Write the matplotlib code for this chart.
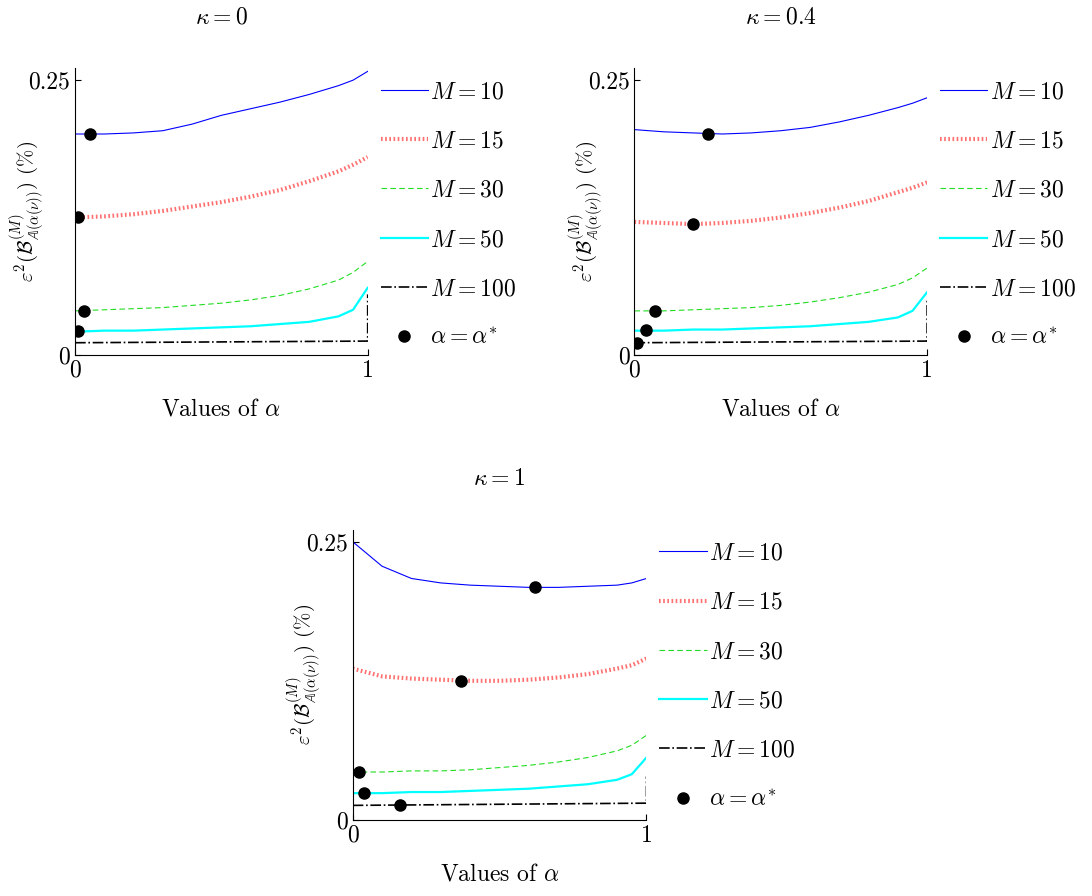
import matplotlib
matplotlib.use('Agg')
import matplotlib.pyplot as plt

plt.rcParams['font.family'] = 'serif'
plt.rcParams['font.serif'] = ['cmr10', 'DejaVu Serif']
plt.rcParams['mathtext.fontset'] = 'cm'
plt.rcParams['axes.unicode_minus'] = False

alpha = [0, 0.1, 0.2, 0.3, 0.4, 0.5, 0.6, 0.7, 0.8, 0.9, 0.95, 1.0]
alpha_100 = [0, 1.0, 1.0]

# kappa = 0
k0_m10 = [0.201, 0.201, 0.202, 0.204, 0.210, 0.218, 0.224, 0.230, 0.237, 0.245, 0.250, 0.258]
k0_m15 = [0.125, 0.126, 0.128, 0.131, 0.135, 0.139, 0.144, 0.150, 0.158, 0.167, 0.173, 0.180]
k0_m30 = [0.040, 0.041, 0.042, 0.043, 0.045, 0.047, 0.050, 0.054, 0.060, 0.068, 0.075, 0.085]
k0_m50 = [0.021, 0.022, 0.022, 0.023, 0.024, 0.025, 0.026, 0.028, 0.030, 0.035, 0.041, 0.061]
k0_m100 = [0.011, 0.0125, 0.055]
k0_opt_a = [0.05, 0.01, 0.03, 0.01]
k0_opt_e = [0.201, 0.125, 0.040, 0.022]

# kappa = 0.4
k4_m10 = [0.205, 0.203, 0.202, 0.201, 0.202, 0.204, 0.207, 0.212, 0.218, 0.225, 0.229, 0.234]
k4_m15 = [0.121, 0.120, 0.119, 0.120, 0.122, 0.125, 0.129, 0.134, 0.140, 0.148, 0.152, 0.157]
k4_m30 = [0.040, 0.040, 0.041, 0.042, 0.043, 0.045, 0.048, 0.052, 0.057, 0.064, 0.070, 0.079]
k4_m50 = [0.022, 0.022, 0.023, 0.023, 0.024, 0.025, 0.026, 0.028, 0.030, 0.034, 0.040, 0.057]
k4_m100 = [0.011, 0.0125, 0.050]
k4_opt_a = [0.25, 0.20, 0.07, 0.04, 0.01]
k4_opt_e = [0.201, 0.119, 0.040, 0.023, 0.011]

# kappa = 1
k1_m10 = [0.250, 0.228, 0.217, 0.213, 0.211, 0.210, 0.209, 0.209, 0.210, 0.211, 0.213, 0.217]
k1_m15 = [0.136, 0.129, 0.127, 0.126, 0.125, 0.125, 0.126, 0.128, 0.131, 0.136, 0.139, 0.145]
k1_m30 = [0.043, 0.043, 0.044, 0.044, 0.045, 0.047, 0.049, 0.052, 0.056, 0.062, 0.067, 0.076]
k1_m50 = [0.024, 0.024, 0.025, 0.025, 0.026, 0.027, 0.028, 0.030, 0.032, 0.036, 0.041, 0.056]
k1_m100 = [0.013, 0.015, 0.039]
k1_opt_a = [0.62, 0.37, 0.02, 0.04, 0.16]
k1_opt_e = [0.209, 0.125, 0.043, 0.024, 0.013]

fig = plt.figure(figsize=(10.92, 8.96), dpi=100)
FS = 17


def panel(rect, title, m10, m15, m30, m50, m100, opt_a, opt_e):
    ax = fig.add_axes(rect)
    ax.plot(alpha, m10, color='blue', lw=0.8, label=r'$M=10$')
    ax.plot(alpha, m15, color='#ff7070', lw=3, ls=(0, (0.4, 0.6)), label=r'$M=15$')
    ax.plot(alpha, m30, color='#22dd22', lw=0.8, ls=(0, (5, 3)), label=r'$M=30$')
    ax.plot(alpha, m50, color='cyan', lw=1.6, label=r'$M=50$')
    ax.plot(alpha_100, m100, color='black', lw=1.2, ls='-.', label=r'$M=100$')
    ax.plot(opt_a, opt_e, 'o', color='black', ms=8, label=r'$\alpha=\alpha^{*}$')
    ax.set_xlim(0, 1)
    ax.set_ylim(0, 0.261)
    ax.set_xticks([0, 1])
    ax.set_xticklabels(['0', '1'])
    ax.set_yticks([0, 0.25])
    ax.set_yticklabels(['0', '0.25'])
    ax.tick_params(direction='in', labelsize=FS, length=4)
    ax.spines['top'].set_visible(False)
    ax.spines['right'].set_visible(False)
    ax.set_title(title, fontsize=FS, pad=32)
    ax.set_xlabel(r'Values of $\alpha$', fontsize=FS, labelpad=12)
    ax.set_ylabel(r'$\varepsilon^2(\mathcal{B}^{(M)}_{\mathbb{A}(\alpha(\nu))})$ (%)',
                  fontsize=15)
    ax.yaxis.set_label_coords(-0.1, 0.5)
    ax.legend(loc='upper left', bbox_to_anchor=(1.0, 1.0), frameon=False,
              fontsize=FS, labelspacing=1.15, handlelength=2.0,
              handletextpad=0.1, borderaxespad=0.15)
    return ax


panel([0.0687, 0.604, 0.268, 0.320], r'$\kappa=0$',
      k0_m10, k0_m15, k0_m30, k0_m50, k0_m100, k0_opt_a, k0_opt_e)
panel([0.581, 0.604, 0.268, 0.320], r'$\kappa=0.4$',
      k4_m10, k4_m15, k4_m30, k4_m50, k4_m100, k4_opt_a, k4_opt_e)
panel([0.323, 0.085, 0.269, 0.324], r'$\kappa=1$',
      k1_m10, k1_m15, k1_m30, k1_m50, k1_m100, k1_opt_a, k1_opt_e)

fig.savefig('out.png', dpi=100)
